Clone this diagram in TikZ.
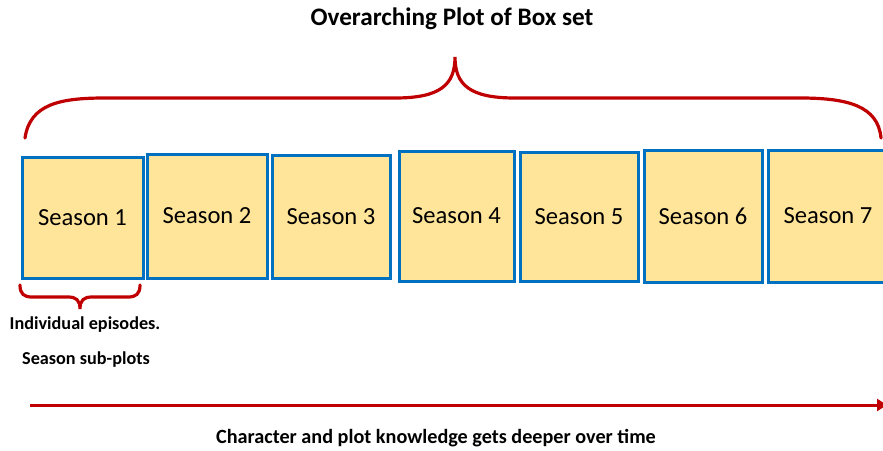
\documentclass[tikz,border=0pt]{standalone}
\usepackage{fontspec}
\setmainfont{Carlito}
\usetikzlibrary{arrows.meta}
\definecolor{myred}{RGB}{192,0,0}
\definecolor{myblue}{RGB}{0,112,192}
\definecolor{mygold}{RGB}{255,229,153}
\tikzset{
  seasonbox/.style={draw=myblue, fill=mygold, line width=1.5pt, inner sep=0,
    font=\fontsize{12.3}{14}\selectfont},
  bracestyle/.style={draw=myred, line width=1.6pt, line cap=round},
  timearrow/.style={draw=myred, line width=1.5pt, -{Triangle[length=5pt,width=6pt]}},
  labeltext/.style={inner sep=0, font=\bfseries\fontsize{9.1}{11}\selectfont}
}

\begin{document}
\begin{tikzpicture}[x=0.5pt,y=-0.5pt]
\useasboundingbox (0,0) rectangle (883,450);
\clip (0,0) rectangle (883,450);
% title over the whole set
\node[inner sep=0, font=\bfseries\fontsize{12.6}{15}\selectfont] (title) at (452,19) {Overarching Plot of Box set};
% big brace
\draw[bracestyle] (25,138) .. controls (30,104) and (60,98) .. (105,98) -- (395,98)
  .. controls (440,98) and (455,85) .. (455,57)
  .. controls (455,85) and (470,98) .. (515,98) -- (800,98)
  .. controls (848,98) and (878,106) .. (881,138);
% the seasons
\foreach \n/\l/\t/\r/\b in {1/22/157/143/278, 2/147/154/267/278, 3/272/155/390/278,
  4/399/151/514/281, 5/520/152/638/281, 6/644/150/762/282, 7/768/150/888/282}
  \node[seasonbox, minimum width={(\r-\l)*0.5pt}, minimum height={(\b-\t)*0.5pt}]
    (s\n) at ({(\l+\r)/2},{(\t+\b)/2}) {Season \n};
% small brace under season 1
\draw[bracestyle] (20,285) .. controls (20,294) and (24,297) .. (32,297) -- (68,297)
  .. controls (76,297) and (80,300) .. (80,309)
  .. controls (80,300) and (84,297) .. (92,297) -- (128,297)
  .. controls (136,297) and (140,294) .. (140,285);
\node[labeltext] (note1) at (85,325) {Individual episodes.};
\node[labeltext] (note2) at (86,360) {Season sub-plots};
% time line
\coordinate (tstart) at (30,405);
\coordinate (tend) at (887,405);
\draw[timearrow] (tstart) -- (tend);
\node[labeltext, font=\bfseries\fontsize{10.1}{12}\selectfont] (timenote) at (436,438) {Character and plot knowledge gets deeper over time};
\end{tikzpicture}
\end{document}
